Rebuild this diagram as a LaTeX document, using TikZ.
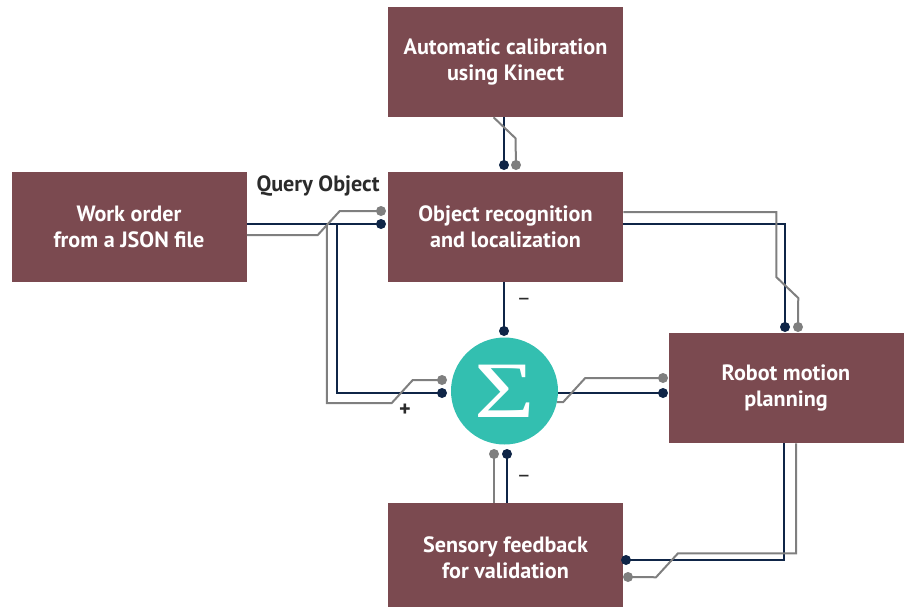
\documentclass[tikz,border=0pt]{standalone}
\usepackage{fontspec}
\usepackage{graphicx}
\setmainfont{PT Sans}
\newfontfamily\sigmafont{Liberation Serif}
\usetikzlibrary{calc}
\definecolor{bloco}{HTML}{7B4A50}
\definecolor{somador}{HTML}{33BFB0}
\definecolor{navy}{HTML}{0F2547}
\definecolor{cinza}{HTML}{7F7F7F}
\definecolor{rotulo}{HTML}{2B2B2B}

\begin{document}
\begin{tikzpicture}[x=0.75pt,y=-0.75pt,
  bloco/.style={fill=bloco, text=white, font=\bfseries\fontsize{16.6}{19.5}\selectfont,
    align=center, minimum width=176.25pt, minimum height=82.5pt, inner sep=0pt},
  fio/.style={line width=1.5pt, navy},
  fiocinza/.style={line width=1.5pt, cinza},
  rot/.style={text=rotulo, font=\bfseries\fontsize{16.6}{19}\selectfont, inner sep=0pt}]

\useasboundingbox (0,0) rectangle (911,607);

% Blocos
\node[bloco] (calib) at (505.5,62) {Automatic calibration\\using Kinect};
\node[bloco] (work) at (129,227) {Work order\\from a JSON file};
\node[bloco] (recog) at (505.5,227) {Object recognition\\and localization};
\node[bloco] (robot) at (786,388) {Robot motion\\planning};
\node[bloco] (sens) at (505.5,558) {Sensory feedback\\for validation};

% Somador
\node[circle, fill=somador, minimum size=80.25pt, inner sep=0pt, text=white,
  font=\sigmafont\fontsize{60}{60}\selectfont] (soma) at (504.5,391) {\scalebox{1.3}[1]{Σ}};

% Pontos de ligacao
\coordinate (pA1) at (504,165);
\coordinate (pA2) at (516,165);
\coordinate (pB1) at (381,224);
\coordinate (pB2) at (381,211);
\coordinate (pC1) at (442,393);
\coordinate (pC2) at (442,380);
\coordinate (pD1) at (504,331);
\coordinate (pE1) at (785,327);
\coordinate (pE2) at (798,327);
\coordinate (pF1) at (663,393);
\coordinate (pF2) at (663,378);
\coordinate (pG1) at (626,560);
\coordinate (pG2) at (628,577);
\coordinate (pH1) at (507,454);
\coordinate (pH2) at (494,454);

% Calibracao -> reconhecimento
\draw[fio] (calib.south -| pA1) -- (pA1);
\draw[fiocinza] ($(calib.south)+(-12,0)$) -- ++(22,21) -- (pA2);

% Ordem de trabalho -> reconhecimento e somador
\draw[fio] (work.east |- pB1) -- (pB1);
\draw[fiocinza] ($(work.east)+(0,8)$) -- ++(71,0) -- ++(22,-24) -- (pB2);
\draw[fio] ($(work.east |- pB1)+(90,0)$) |- (pC1);
\draw[fiocinza] ($(work.east)+(80,-2)$) -- ++(0,178) -- ++(65,0) -- ++(21,-23) -- (pC2);

% Reconhecimento -> planeamento e somador
\draw[fio] ($(recog.east)+(0,-3)$) -| (pE1);
\draw[fiocinza] ($(recog.east)+(0,-15)$) -- ++(153,0) -- ++(0,65) -- ++(22,21) -- (pE2);
\draw[fio] (recog.south -| pD1) -- (pD1);

% Somador -> planeamento
\draw[fio] (soma.east |- pF1) -- (pF1);
\draw[fiocinza] (soma.-12) -- ++(6,0) -- ++(22,-24) -- (pF2);

% Planeamento -> sensores
\draw[fio] ($(robot.south)+(-2,0)$) |- (pG1);
\draw[fiocinza] ($(robot.south)+(10,0)$) -- ++(0,110) -- ++(-118,0) -- ++(-22,24) -- (pG2);

% Sensores -> somador
\draw[fio] (sens.north -| pH1) -- (pH1);
\draw[fiocinza] (sens.north -| pH2) -- (pH2);

% Terminais
\foreach \p in {pA1,pB1,pC1,pD1,pE1,pF1,pG1,pH1}
  \fill[navy] (\p) circle (3.75pt);
\foreach \p in {pA2,pB2,pC2,pE2,pF2,pG2,pH2}
  \fill[cinza] (\p) circle (3.75pt);

% Rotulos
\node[rot] (query) at (318,186) {Query Object};
\node[rot] (mais) at (405,410) {+};
\node[rot, font=\fontsize{16.6}{19}\selectfont] (menos1) at (524,302) {–};
\node[rot, font=\fontsize{16.6}{19}\selectfont] (menos2) at (524,479) {–};

\end{tikzpicture}
\end{document}
